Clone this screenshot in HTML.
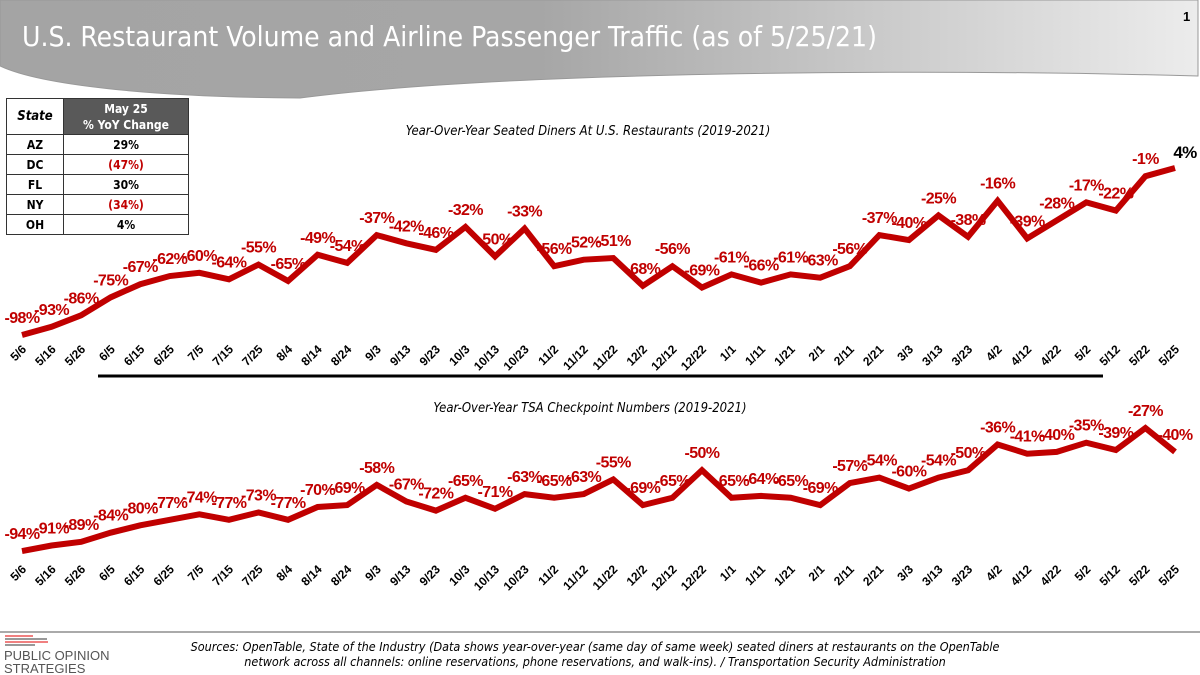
<!DOCTYPE html>
<html><head><meta charset="utf-8"><style>
body{margin:0;width:1200px;height:675px;overflow:hidden;background:#fff;font-family:"Liberation Sans",sans-serif;position:relative}
#svg{position:absolute;left:0;top:0}
table{position:absolute;left:6px;top:98px;border-collapse:collapse;font-size:12px;font-weight:bold;font-family:"DejaVu Sans Condensed","Liberation Sans",sans-serif}
td{border:1.5px solid #333;text-align:center;height:19px;padding:0}
</style></head><body>
<svg id="svg" width="1200" height="675">
<defs><linearGradient id="hg" x1="0" x2="1"><stop offset="0" stop-color="#a4a4a4"/><stop offset="0.45" stop-color="#a6a6a6"/><stop offset="1" stop-color="#ececec"/></linearGradient></defs>
<path d="M0 0 H1198 V76 C900 68 500 72 300 98 C150 97 40 85 0 66 Z" fill="url(#hg)" stroke="#999"/>
<text x="22" y="46" fill="#fff" font-size="28" font-family="DejaVu Sans Condensed,Liberation Sans,sans-serif">U.S. Restaurant Volume and Airline Passenger Traffic (as of 5/25/21)</text>
<text x="1183" y="21" font-size="13" font-weight="bold">1</text>
<text x="588" y="135" text-anchor="middle" font-size="13" font-style="italic" font-family="DejaVu Sans Condensed,Liberation Sans,sans-serif">Year-Over-Year Seated Diners At U.S. Restaurants (2019-2021)</text>
<text x="590" y="412" text-anchor="middle" font-size="13" font-style="italic" font-family="DejaVu Sans Condensed,Liberation Sans,sans-serif">Year-Over-Year TSA Checkpoint Numbers (2019-2021)</text>
<line x1="98" y1="376" x2="1103" y2="376" stroke="#000" stroke-width="3"/>
<line x1="0" y1="632" x2="1200" y2="632" stroke="#555" stroke-width="1"/>
<g>
<rect x="5" y="635" width="28" height="2" fill="#f08080"/><rect x="5" y="638" width="42" height="2" fill="#999"/><rect x="5" y="641" width="43" height="2" fill="#f08080"/><rect x="5" y="644" width="30" height="2" fill="#999"/>
<text x="4" y="660" font-size="13" fill="#555">PUBLIC OPINION</text><text x="4" y="673" font-size="13" fill="#555">STRATEGIES</text></g>
<text font-size="12.5" font-style="italic" text-anchor="middle" font-family="DejaVu Sans Condensed,Liberation Sans,sans-serif"><tspan x="595" y="651">Sources: OpenTable, State of the Industry (Data shows year-over-year (same day of same week) seated diners at restaurants on the OpenTable</tspan><tspan x="595" y="666">network across all channels: online reservations, phone reservations, and walk-ins). / Transportation Security Administration</tspan></text>
<g id="top"></g><g id="bot"></g>
</svg>
<table>
<tr><td style="width:56px;font-style:italic;font-size:13px;height:35px">State</td><td style="width:124px;background:#595959;color:#fff;line-height:16px">May 25<br>% YoY Change</td></tr>
<tr><td>AZ</td><td>29%</td></tr>
<tr><td>DC</td><td style="color:#c00000">(47%)</td></tr>
<tr><td>FL</td><td>30%</td></tr>
<tr><td>NY</td><td style="color:#c00000">(34%)</td></tr>
<tr><td>OH</td><td>4%</td></tr>
</table>
<script>
const categories=["5/6","5/16","5/26","6/5","6/15","6/25","7/5","7/15","7/25","8/4","8/14","8/24","9/3","9/13","9/23","10/3","10/13","10/23","11/2","11/12","11/22","12/2","12/12","12/22","1/1","1/11","1/21","2/1","2/11","2/21","3/3","3/13","3/23","4/2","4/12","4/22","5/2","5/12","5/22","5/25"];
const dinersValues=[-98,-93,-86,-75,-67,-62,-60,-64,-55,-65,-49,-54,-37,-42,-46,-32,-50,-33,-56,-52,-51,-68,-56,-69,-61,-66,-61,-63,-56,-37,-40,-25,-38,-16,-39,-28,-17,-22,-1,4];
const tsaValues=[-94,-91,-89,-84,-80,-77,-74,-77,-73,-77,-70,-69,-58,-67,-72,-65,-71,-63,-65,-63,-55,-69,-65,-50,-65,-64,-65,-69,-57,-54,-60,-54,-50,-36,-41,-40,-35,-39,-27,-40];
const NS="http://www.w3.org/2000/svg";
function xPos(i){return 22+i*(1175-22)/(categories.length-1);}
function yTop(v){return 168+(4-v)*1.637;}
function yBot(v){return 428+(-27-v)*1.836;}
function draw(gid,vals,yf,tickY,lastBlack){
 const g=document.getElementById(gid);
 const p=document.createElementNS(NS,'polyline');
 
 
 p.setAttribute('points',vals.map((v,i)=>xPos(i)+','+yf(v)).join(' '));
 p.setAttribute('fill','none');p.setAttribute('stroke','#c00000');p.setAttribute('stroke-width','6');p.setAttribute('stroke-linejoin','miter');
 g.appendChild(p);
 vals.forEach((v,i)=>{
  const t=document.createElementNS(NS,'text');
  
  
  const last=lastBlack&&i===vals.length-1;
  t.setAttribute('x',last?xPos(i)+10:xPos(i));t.setAttribute('y',yf(v)-(last?10:12));
  t.setAttribute('text-anchor','middle');t.setAttribute('font-size',last?'17':'16');t.setAttribute('font-weight','bold');
  t.setAttribute('fill',last?'#000':'#c00000');t.setAttribute('letter-spacing','-0.6');
  t.textContent=v+'%';g.appendChild(t);
  const k=document.createElementNS(NS,'text');
  
  
  k.setAttribute('transform','translate('+(xPos(i)+5)+','+tickY+') rotate(-45)');
  k.setAttribute('text-anchor','end');k.setAttribute('font-size','12');k.setAttribute('font-weight','bold');
  k.textContent=categories[i];g.appendChild(k);
 });
}
draw('top',dinersValues,yTop,350,true);
draw('bot',tsaValues,yBot,570,false);
</script>
</body></html>
